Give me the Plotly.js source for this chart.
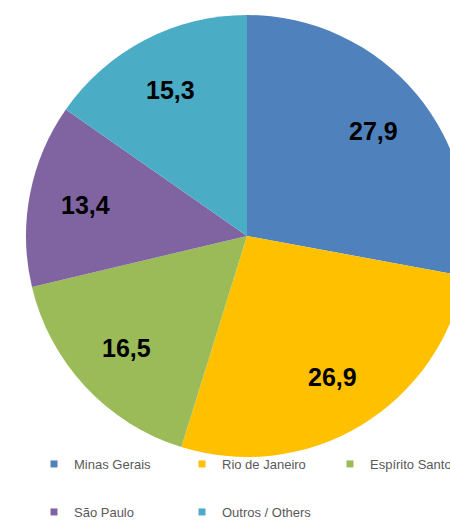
<!DOCTYPE html>
<html>
<head>
<meta charset="utf-8">
<script src="https://cdn.plot.ly/plotly-3.0.1.min.js"></script>
<style>
html, body { margin: 0; padding: 0; overflow: hidden; background: #ffffff; }
#chart { width: 520px; height: 521px; }
</style>
</head>
<body>
<div id="chart"></div>
<script>
const categories = ["Minas Gerais", "Rio de Janeiro", "Espírito Santo", "São Paulo", "Outros / Others"];
const shares = [27.9, 26.9, 16.5, 13.4, 15.3];
const colors = ["#4F81BD", "#FFC000", "#9BBB59", "#8064A2", "#4BACC6"];
const legendRow = ["legend", "legend", "legend", "legend2", "legend2"];

const W = 520, H = 521;
const CX = 247, CY = 236, R = 221;   // pie geometry in px
const LABEL_R = 0.745;               // label distance as fraction of radius

const pie = {
  type: "pie",
  labels: categories,
  values: shares,
  sort: false,
  direction: "clockwise",
  rotation: 0,
  marker: { colors: colors, line: { width: 0 } },
  textinfo: "none",
  hoverinfo: "label+value",
  showlegend: false,
  domain: { x: [(CX - R) / W, (CX + R) / W], y: [(H - CY - R) / H, (H - CY + R) / H] }
};

const legendTraces = categories.map((c, i) => ({
  type: "scatter",
  mode: "markers",
  x: [null], y: [null],
  name: c,
  legend: legendRow[i],
  marker: { symbol: "square", size: 7, color: colors[i] },
  showlegend: true,
  hoverinfo: "skip"
}));

// value labels placed at each slice's mid-angle
const total = shares.reduce((a, b) => a + b, 0);
let cum = 0;
const annotations = shares.map((v) => {
  const mid = (cum + v / 2) / total * 2 * Math.PI;
  cum += v;
  const px = CX + LABEL_R * R * Math.sin(mid);
  const py = CY - LABEL_R * R * Math.cos(mid);
  return {
    xref: "paper", yref: "paper",
    x: px / W, y: 1 - py / H,
    xanchor: "center", yanchor: "middle",
    showarrow: false,
    text: v.toFixed(1).replace(".", ","),
    font: { family: "Liberation Sans, Arial, sans-serif", size: 25, color: "#000000", weight: "bold" }
  };
});

const legendFont = { family: "Liberation Sans, Arial, sans-serif", size: 13, color: "#595959" };

const layout = {
  width: W, height: H,
  margin: { l: 0, r: 0, t: 0, b: 0, autoexpand: false },
  paper_bgcolor: "#ffffff",
  plot_bgcolor: "#ffffff",
  xaxis: { visible: false, domain: [0, 0.01] },
  yaxis: { visible: false, domain: [0, 0.01] },
  annotations: annotations,
  legend: {
    orientation: "h", x: 34 / W, xanchor: "left", y: 1 - 449 / H, yanchor: "top",
    entrywidth: 103, entrywidthmode: "pixels",
    font: legendFont, bgcolor: "rgba(0,0,0,0)", itemclick: false
  },
  legend2: {
    orientation: "h", x: 34 / W, xanchor: "left", y: 1 - 497 / H, yanchor: "top",
    entrywidth: 103, entrywidthmode: "pixels",
    font: legendFont, bgcolor: "rgba(0,0,0,0)", itemclick: false
  }
};

Plotly.newPlot("chart", [pie].concat(legendTraces), layout, { displayModeBar: false, staticPlot: true });
</script>
</body>
</html>
